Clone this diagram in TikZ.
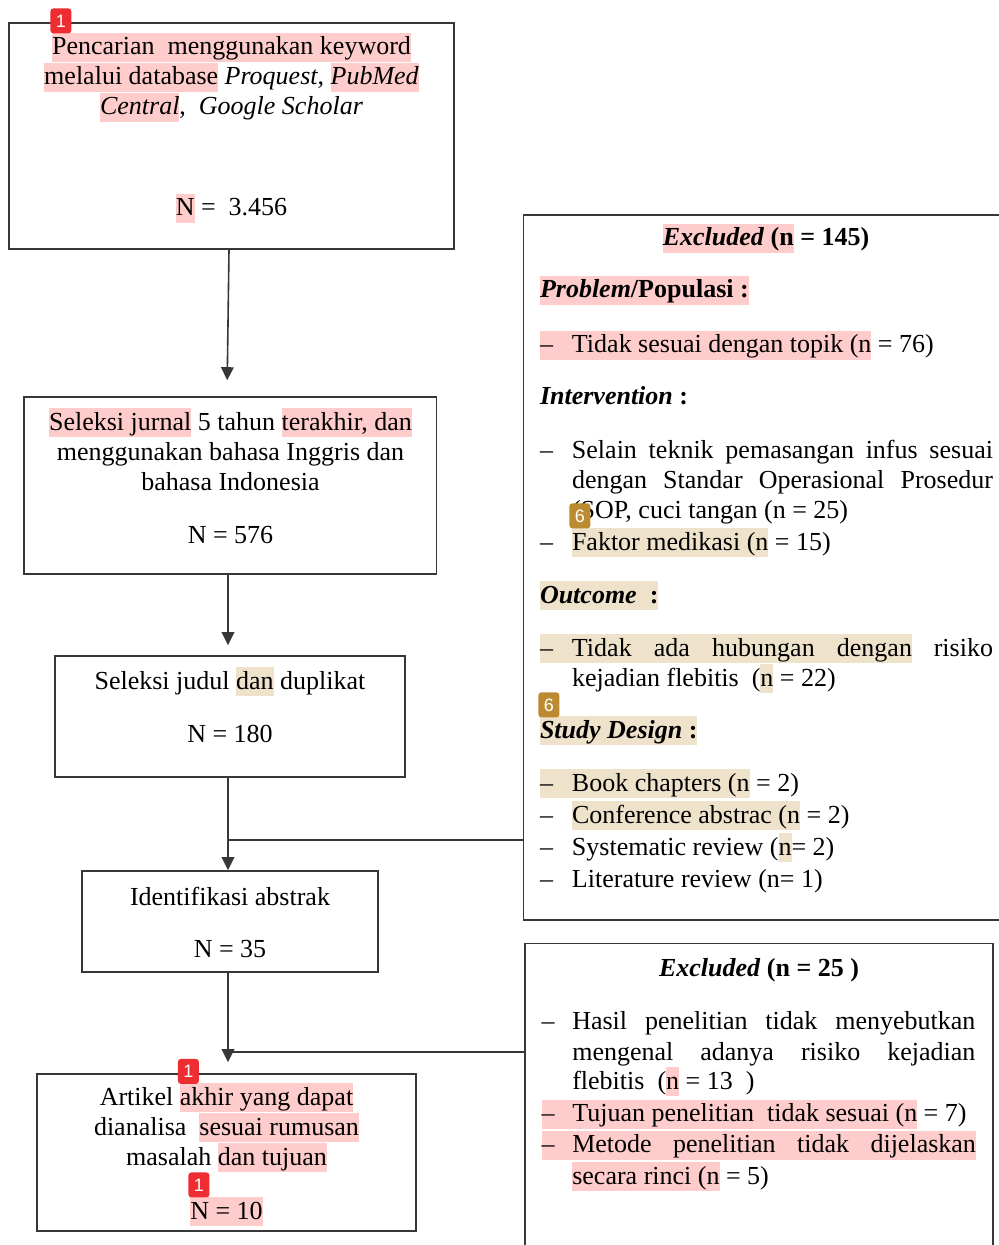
\documentclass[tikz,border=0pt]{standalone}
\usepackage{fontspec}
\setmainfont{Liberation Serif}
\newfontfamily\badgefont{Liberation Sans}
\usetikzlibrary{arrows.meta,fit}
\definecolor{hpink}{RGB}{255,204,204}
\definecolor{htan}{RGB}{238,226,203}
\definecolor{bred}{RGB}{238,45,50}
\definecolor{btan}{RGB}{188,138,48}
\definecolor{linec}{RGB}{55,55,55}
\newcommand\HLp[1]{{\setlength{\fboxsep}{0pt}\colorbox{hpink}{\rule[-3.5pt]{0pt}{14.5pt}#1}}}
\newcommand\HLt[1]{{\setlength{\fboxsep}{0pt}\colorbox{htan}{\rule[-3.5pt]{0pt}{14.5pt}#1}}}
\newcommand\dsh{\makebox[16pt][l]{–}}
\newcommand\dshb{\makebox[15.3pt][l]{–}}
\begin{document}
\begin{tikzpicture}[x=0.5pt,y=-0.5pt,
  boxc/.style={draw=linec, line width=0.8pt, inner sep=0pt},
  tc/.style={inner sep=0pt, outer sep=0pt, anchor=base, font=\fontsize{13}{15}\selectfont},
  tl/.style={inner sep=0pt, outer sep=0pt, anchor=base west, font=\fontsize{13}{15}\selectfont},
  conn/.style={draw=linec, line width=0.8pt},
  arr/.style={conn, -{Triangle[length=6.5pt,width=6.3pt]}},
  badge/.style={rounded corners=1.5pt, inner sep=0pt, anchor=north west, minimum width=10.5pt, minimum height=12.5pt, text=white, font=\badgefont\fontsize{9}{9}\selectfont},
]
\fill[white] (0,0) rectangle (999,1245);
\useasboundingbox (0,0) rectangle (999,1245);

% boxes
\node[boxc, fit={(9,23) (454,249)}] (b1) {};
\node[boxc, fit={(23.7,397) (436.5,574)}] (b2) {};
\node[boxc, fit={(55,656) (405,777)}] (b3) {};
\node[boxc, fit={(82,871) (378,972)}] (b4) {};
\node[boxc, fit={(37,1074) (416,1231)}] (b5) {};
\node[boxc, fit={(523.5,215) (1012,920)}] (ra) {};
\node[boxc, fit={(525,943.5) (993,1262)}] (rb) {};

% connectors
\coordinate (c229) at (229,0);
\coordinate (c227) at (227,0);
\coordinate (c228) at (228,0);
\coordinate (j1) at (228,840);
\coordinate (j2) at (228,1052);
\draw[arr, shorten >=8pt] (b1.south -| c229) -- (b2.north -| c227);
\draw[arr, shorten >=5pt] (b2.south -| c228) -- (b3.north -| c228);
\draw[arr] (b3.south -| c228) -- (b4.north -| c228);
\draw[conn] (j1) -- (j1 -| ra.west);
\draw[arr, shorten >=5.5pt] (b4.south -| c228) -- (b5.north -| c228);
\draw[conn] (j2) -- (j2 -| rb.west);

% box 1
\node[tc] (t11) at (231.5,55) {\HLp{Pencarian\ \ menggunakan keyword}};
\node[tc] (t12) at (231.5,85) {\HLp{melalui database} \textit{Proquest}, \HLp{\textit{PubMed}}};
\node[tc] (t13) at (231.5,115) {\HLp{\textit{Central}},\ \ \textit{Google Scholar}};
\node[tc] (t14) at (231.5,216) {\HLp{N} =\ \ 3.456};
% box 2
\node[tc] (t21) at (230.5,430) {\HLp{Seleksi jurnal} 5 tahun \HLp{terakhir, dan}};
\node[tc] (t22) at (230.5,460) {menggunakan bahasa Inggris dan};
\node[tc] (t23) at (230.5,490) {bahasa Indonesia};
\node[tc] (t24) at (230.5,543) {N = 576};
% box 3
\node[tc] (t31) at (230,689) {Seleksi judul \HLt{dan} duplikat};
\node[tc] (t32) at (230,742) {N = 180};
% box 4
\node[tc] (t41) at (230,905) {Identifikasi abstrak};
\node[tc] (t42) at (230,957) {N = 35};
% box 5
\node[tc] (t51) at (226.5,1105) {Artikel \HLp{akhir yang dapat}};
\node[tc] (t52) at (226.5,1135) {dianalisa\ \ \HLp{sesuai rumusan}};
\node[tc] (t53) at (226.5,1165) {masalah \HLp{dan tujuan}};
\node[tc] (t54) at (226.5,1219) {\HLp{N = 10}};

% right box A
\node[tc] (a0) at (766,246) {\textbf{\HLp{\textit{Excluded} (n} = 145)}};
\node[tl] (a1) at (540,298) {\textbf{\HLp{\textit{Problem}/Populasi :}}};
\node[tl] (a2) at (540,353) {\HLp{\dsh Tidak sesuai dengan topik (n} = 76)};
\node[tl] (a3) at (540,405) {\textbf{\textit{Intervention} :}};
\node[tl] (a4) at (540,458) {\dsh\makebox[210.5pt][s]{Selain teknik pemasangan infus sesuai}};
\node[tl] (a5) at (572,488) {\makebox[210.5pt][s]{dengan Standar Operasional Prosedur}};
\node[tl] (a6) at (572,518) {(SOP, cuci tangan (n = 25)};
\node[tl] (a7) at (540,550) {\dsh\HLt{Faktor medikasi (n} = 15)};
\node[tl] (a8) at (540,603) {\textbf{\HLt{\textit{Outcome}\ \ :}}};
\node[tl] (a9) at (540,656) {\HLt{\dsh\makebox[170pt][s]{Tidak ada hubungan dengan}}\makebox[40.5pt][r]{risiko}};
\node[tl] (a10) at (572,686) {kejadian flebitis\ \ (\HLt{n} = 22)};
\node[tl] (a11) at (540,738) {\textbf{\HLt{\textit{Study Design} :}}};
\node[tl] (a12) at (540,791) {\HLt{\dsh Book chapters (n} = 2)};
\node[tl] (a13) at (540,823) {\dsh\HLt{Conference abstrac (n} = 2)};
\node[tl] (a14) at (540,855) {\dsh Systematic review (\HLt{n}= 2)};
\node[tl] (a15) at (540,887) {\dsh Literature review (n= 1)};

% right box B
\node[tc] (r0) at (759,976) {\textbf{\textit{Excluded} (n = 25 )}};
\node[tl] (r1) at (541.7,1029) {\dshb\makebox[201.5pt][s]{Hasil penelitian tidak menyebutkan}};
\node[tl] (r2) at (572.3,1060) {\makebox[201.5pt][s]{mengenal adanya risiko kejadian}};
\node[tl] (r3) at (572.3,1089) {flebitis\ \ (\HLp{n} = 13\ \ )};
\node[tl] (r4) at (541.7,1121.5) {\HLp{\dshb Tujuan penelitian\ \ tidak sesuai (n} = 7)};
\node[tl] (r5) at (541.7,1152.5) {\HLp{\dshb\makebox[201.8pt][s]{Metode penelitian tidak dijelaskan}}};
\node[tl] (r6) at (572.3,1184) {\HLp{secara rinci (n} = 5)};

% annotation badges
\node[badge, fill=bred] (m1) at (50,8) {1};
\node[badge, fill=bred] (m2) at (177.5,1058.5) {1};
\node[badge, fill=bred] (m3) at (188,1172) {1};
\node[badge, fill=btan] (m4) at (569,503) {6};
\node[badge, fill=btan] (m5) at (538,692) {6};
\end{tikzpicture}
\end{document}
